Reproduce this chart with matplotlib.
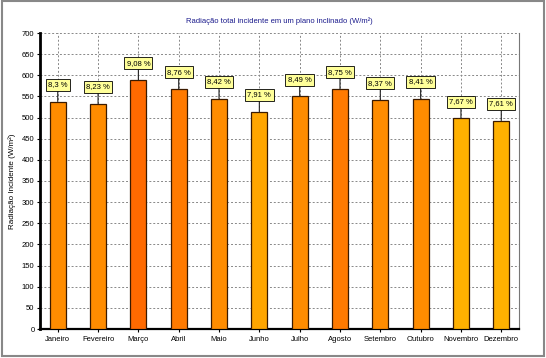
import matplotlib
matplotlib.use("Agg")
import matplotlib.pyplot as plt
from matplotlib.patches import Rectangle

plt.rcParams['font.family'] = ['Liberation Sans', 'DejaVu Sans']

months = ["Janeiro", "Fevereiro", "Março", "Abril", "Maio", "Junho",
          "Julho", "Agosto", "Setembro", "Outubro", "Novembro", "Dezembro"]
radiation = [538, 533, 589, 568, 545, 514, 550, 568, 542, 545, 498, 493]
percent_labels = ["8,3 %", "8,23 %", "9,08 %", "8,76 %", "8,42 %", "7,91 %",
                  "8,49 %", "8,75 %", "8,37 %", "8,41 %", "7,67 %", "7,61 %"]
yticks = list(range(0, 701, 50))

bar_colors = ["#FF8C00", "#FF8C00", "#FF6A00", "#FF7A00", "#FF8C00", "#FFA500",
              "#FF8C00", "#FF7A00", "#FF8C00", "#FF8C00", "#FFB000", "#FFB000"]

fig = plt.figure(figsize=(5.46, 3.58), dpi=100)
fig.patch.set_facecolor("white")
ax = fig.add_axes([40/546, 1-329/358, (519-40)/546, (329-33)/358])

x = list(range(len(months)))
ax.bar(x, radiation, width=0.40, color=bar_colors, edgecolor="#3a1a00",
       linewidth=0.9, zorder=3)

for xi, v, lab in zip(x, radiation, percent_labels):
    ax.annotate(lab, xy=(xi, v), xytext=(0, 12), textcoords="offset points",
                ha="center", va="center", fontsize=5.5,
                bbox=dict(boxstyle="square,pad=0.3", fc="#FFFF99", ec="black", lw=0.6),
                arrowprops=dict(arrowstyle="-", color="#222222", lw=0.8,
                                shrinkA=0, shrinkB=0),
                zorder=5)

ax.set_xlim(-0.44, 11.44)
ax.set_ylim(0, 700)
ax.set_yticks(yticks)
ax.set_xticks(x)
ax.set_xticklabels(months, fontsize=5.5)
ax.tick_params(axis="y", labelsize=5.5, length=2, pad=2)
ax.tick_params(axis="x", length=2, pad=3)
ax.grid(True, linestyle=(0, (2, 2)), color="#888888", linewidth=0.7, zorder=0)
ax.set_axisbelow(True)

ax.spines["left"].set_linewidth(2.0)
ax.spines["left"].set_color("black")
ax.spines["bottom"].set_linewidth(1.6)
ax.spines["bottom"].set_color("black")
ax.spines["top"].set_visible(False)
ax.spines["right"].set_color("#777777")
ax.spines["right"].set_linewidth(0.8)

ax.set_title("Radiação total incidente em um plano inclinado (W/m²)",
             fontsize=5.5, color="#1a1a8c", pad=7)
ax.set_ylabel("Radiação Incidente (W/m²)", fontsize=5.8, labelpad=4)

# outer frame
fig.patches.append(Rectangle((0.003, 0.006), 0.994, 0.99, transform=fig.transFigure,
                             fill=False, ec="#888888", lw=1.5))

fig.savefig("out.png", dpi=100)
